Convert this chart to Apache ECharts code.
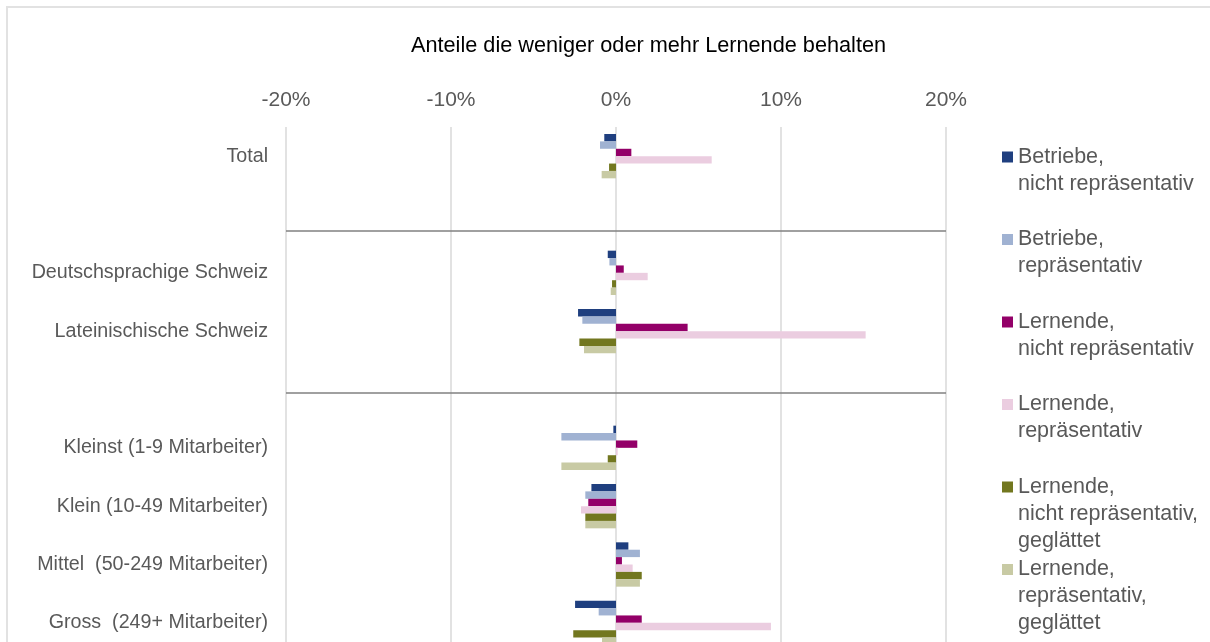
<!DOCTYPE html>
<html>
<head>
<meta charset="utf-8">
<script src="https://cdn.jsdelivr.net/npm/echarts@6/dist/echarts.min.js"></script>
<style>
  html, body { margin: 0; padding: 0; background: #fff; overflow: hidden; }
  #frame { position: absolute; left: 6px; top: 6px; width: 1400px; height: 900px; border: 2px solid #e2e2e2; }
  #chart { position: absolute; left: 0; top: 0; width: 1210px; height: 642px; }
</style>
</head>
<body>
<div id="frame"></div>
<div id="chart"></div>
<script>
// Kategorien (leere Einträge = Abstand zwischen den Gruppen)
var categories = [
  'Total', ' ', 'Deutschsprachige Schweiz', 'Lateinischische Schweiz', '  ',
  'Kleinst (1-9 Mitarbeiter)', 'Klein (10-49 Mitarbeiter)',
  'Mittel  (50-249 Mitarbeiter)', 'Gross  (249+ Mitarbeiter)'
];

var seriesNames = [
  'Betriebe, nicht repräsentativ',
  'Betriebe, repräsentativ',
  'Lernende, nicht repräsentativ',
  'Lernende, repräsentativ',
  'Lernende, nicht repräsentativ, geglättet',
  'Lernende, repräsentativ, geglättet'
];

var legendLines = [
  ['Betriebe,', 'nicht repräsentativ'],
  ['Betriebe,', 'repräsentativ'],
  ['Lernende,', 'nicht repräsentativ'],
  ['Lernende,', 'repräsentativ'],
  ['Lernende,', 'nicht repräsentativ,', 'geglättet'],
  ['Lernende,', 'repräsentativ,', 'geglättet']
];

// Werte in Prozent
var betriebeNichtRepr   = [-0.71, null, -0.50, -2.30, null, -0.16, -1.49, 0.75, -2.48];
var betriebeRepr        = [-0.97, null, -0.40, -2.04, null, -3.31, -1.86, 1.45, -1.05];
var lernendeNichtRepr   = [0.93, null, 0.47, 4.34, null, 1.29, -1.68, 0.36, 1.56];
var lernendeRepr        = [5.80, null, 1.92, 15.13, null, 0.10, -2.12, 1.01, 9.39];
var lernendeNichtReprGl = [-0.42, null, -0.24, -2.22, null, -0.50, -1.86, 1.56, -2.59];
var lernendeReprGl      = [-0.87, null, -0.32, -1.94, null, -3.31, -1.86, 1.45, -0.85];

var xTicks = [-20, -10, 0, 10, 20];

// Trennlinien zwischen den Gruppen (Position in Kategorie-Einheiten)
var separatorPos = [1.78, 4.56];

var colors = ['#1f3f7f', '#a0b2d2', '#930068', '#ebcde0', '#72771f', '#c8caa4'];

var values = [betriebeNichtRepr, betriebeRepr, lernendeNichtRepr, lernendeRepr, lernendeNichtReprGl, lernendeReprGl];

var chart = echarts.init(document.getElementById('chart'), null, { renderer: 'canvas' });

var series = values.map(function (v, i) {
  return {
    name: seriesNames[i],
    type: 'bar',
    data: v,
    barCategoryGap: '24%',
    barGap: '0%',
    itemStyle: { color: colors[i] },
    animation: false
  };
});

series.push({
  name: 'sep',
  type: 'line',
  yAxisIndex: 1,
  data: [[0, 0]],
  symbol: 'none',
  lineStyle: { opacity: 0 },
  silent: true,
  markLine: {
    silent: true,
    symbol: 'none',
    label: { show: false },
    lineStyle: { color: '#808080', width: 1.5, type: 'solid' },
    data: separatorPos.map(function (p) { return { yAxis: p }; })
  }
});

// Legende: erste Zeile neben dem Symbol, alle Einträge gleich hoch (5 Zeilen)
function legendText(name) {
  var lines = legendLines[seriesNames.indexOf(name)];
  var out = ['', ''].concat(lines);
  while (out.length < 5) out.push('');
  return out.join('\n');
}

var font = 'Liberation Sans, Arial, sans-serif';

chart.setOption({
  animation: false,
  textStyle: { fontFamily: font },
  title: {
    text: 'Anteile die weniger oder mehr Lernende behalten',
    left: 411,
    top: 35,
    padding: 0,
    textStyle: { color: '#000', fontSize: 21.7, fontWeight: 'normal', fontFamily: font }
  },
  legend: {
    orient: 'vertical',
    left: 997,
    top: 84.5,
    itemWidth: 11,
    itemHeight: 11,
    itemGap: -52.5,
    icon: 'rect',
    data: seriesNames,
    formatter: legendText,
    textStyle: { color: '#595959', fontSize: 21.5, lineHeight: 27, fontFamily: font }
  },
  grid: { left: 286, top: 127, width: 660, height: 525, outerBoundsMode: 'none' },
  xAxis: {
    type: 'value',
    position: 'top',
    min: xTicks[0],
    max: xTicks[xTicks.length - 1],
    interval: 10,
    axisLine: { show: false },
    axisTick: { show: false },
    axisLabel: {
      color: '#595959',
      fontSize: 21,
      margin: 16,
      formatter: '{value}%'
    },
    splitLine: { show: true, lineStyle: { color: '#d9d9d9', width: 1.5 } }
  },
  yAxis: [
    {
      type: 'category',
      inverse: true,
      data: categories,
      axisLine: { show: false },
      axisTick: { show: false },
      axisLabel: { color: '#595959', fontSize: 19.7, margin: 18 },
      splitLine: { show: false }
    },
    {
      type: 'value',
      inverse: true,
      min: 0,
      max: categories.length,
      show: false,
      splitLine: { show: false }
    }
  ],
  series: series
});
</script>
</body>
</html>
